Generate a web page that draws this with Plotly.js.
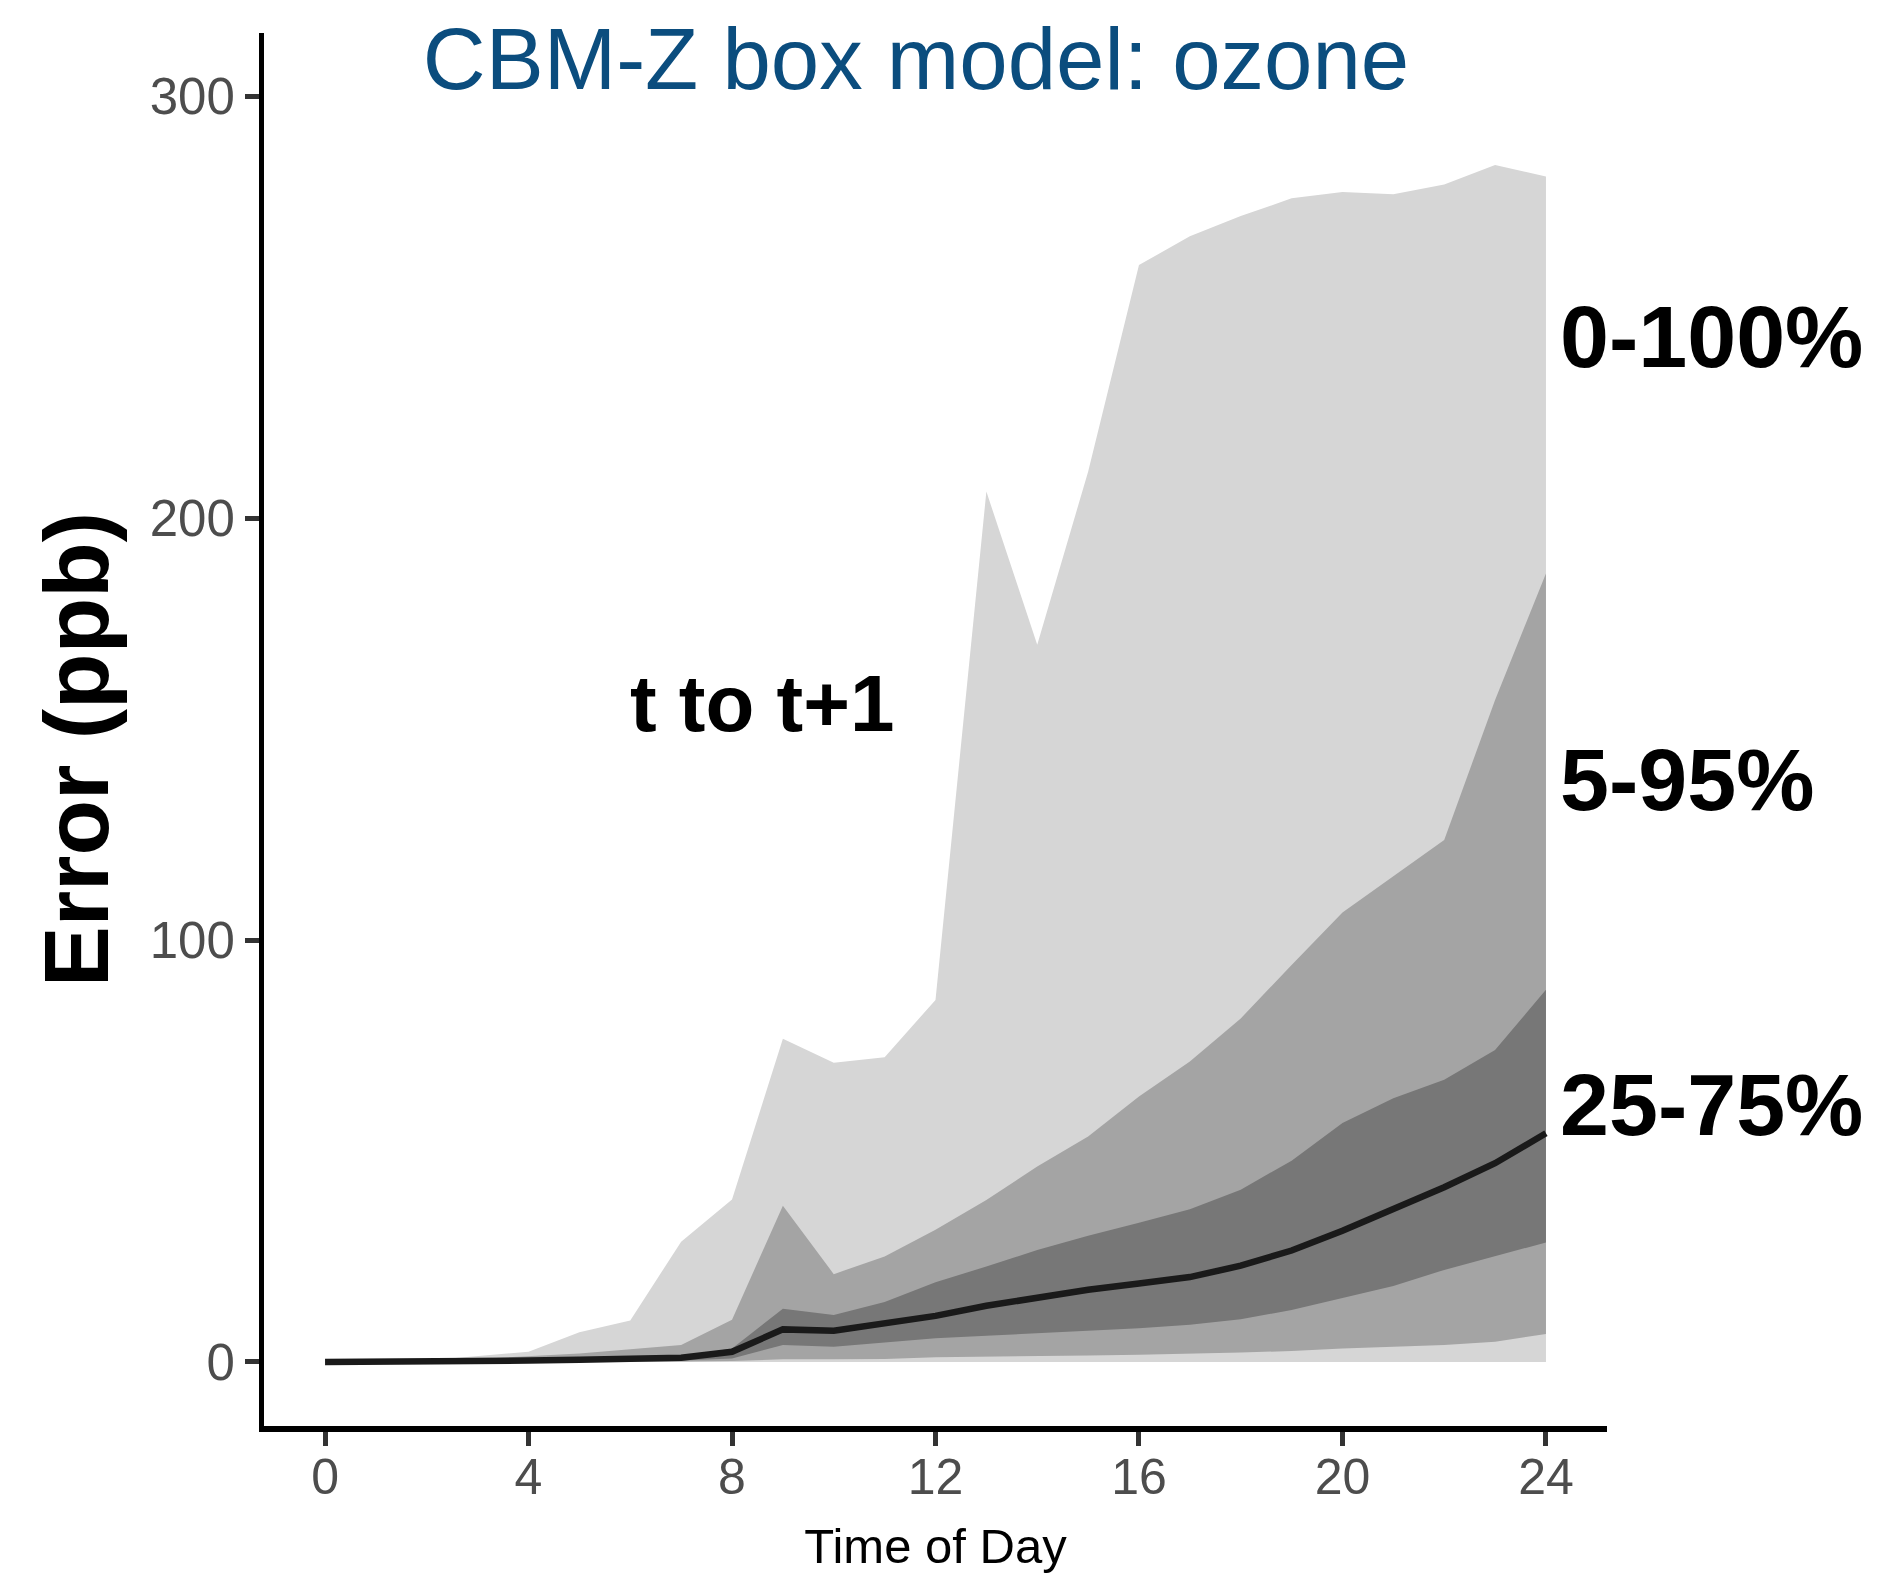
<!DOCTYPE html>
<html>
<head>
<meta charset="utf-8">
<script src="https://cdn.plot.ly/plotly-3.0.1.min.js"></script>
<style>html,body{margin:0;padding:0;background:#fff;}#chart{width:1880px;height:1573px;}</style>
</head>
<body>
<div id="chart"></div>
<script>
// Hour of day
const hours = [0,1,2,3,4,5,6,7,8,9,10,11,12,13,14,15,16,17,18,19,20,21,22,23,24];
// Error percentiles (ppb)
const p0   = [0,0,0,0,0,0,0,0,0,0,0,0,0,0,0,0,0,0,0,0,0,0,0,0,0];
const p5   = [0,0,0,0.01,0.02,0.03,0.05,0.08,0.2,0.6,0.6,0.7,1.1,1.2,1.3,1.5,1.7,1.9,2.2,2.6,3.2,3.6,4.0,4.8,6.6];
const p25  = [0,0,0.02,0.05,0.1,0.15,0.2,0.3,0.8,4.0,3.6,4.6,5.6,6.2,6.8,7.4,8.0,8.8,10.1,12.3,15.1,18.0,21.8,25.0,28.3];
const p50  = [0,0,0.05,0.15,0.3,0.5,0.7,1.0,2.4,7.7,7.4,9.3,10.9,13.3,15.2,17.1,18.6,20.1,22.8,26.4,31.1,36.2,41.4,47.1,54.2];
const p75  = [0,0.01,0.1,0.3,0.5,0.7,0.9,1.2,3.2,12.6,11.1,14.2,18.9,22.6,26.5,29.9,33.0,36.2,40.8,47.7,56.6,62.5,66.9,73.9,88.2];
const p95  = [0,0.02,0.2,0.7,1.3,2.0,3.0,4.0,10.0,37.0,20.8,25.0,31.3,38.4,46.3,53.4,62.9,71.2,81.4,94.1,106.5,115.0,123.7,156.9,186.9];
const p100 = [0,0.05,0.3,1.4,2.4,7.0,9.8,28.5,38.5,76.6,70.9,72.2,85.8,206.3,170.0,211.0,260.0,266.8,271.6,275.8,277.3,276.8,279.1,283.7,281.0];

const xTicks = [0,4,8,12,16,20,24];
const yTicks = [0,100,200,300];
const bandLabels = ["0-100%","5-95%","25-75%"];
const bandLabelY = [243,138,61];

const FONT = "Liberation Sans, Arial, Helvetica, sans-serif";

function band(lo, hi, color){
  return [
    {x: hours, y: lo, type:'scatter', mode:'lines', line:{width:0, color:color}, hoverinfo:'skip', showlegend:false},
    {x: hours, y: hi, type:'scatter', mode:'lines', line:{width:0, color:color}, fill:'tonexty', fillcolor:color, hoverinfo:'skip', showlegend:false}
  ];
}

const traces = [].concat(
  band(p0, p100, '#d6d6d6'),
  band(p5, p95, '#a4a4a4'),
  band(p25, p75, '#777777'),
  [{x: hours, y: p50, type:'scatter', mode:'lines', line:{width:6.5, color:'#1a1a1a'}, showlegend:false}]
);

const annotations = bandLabels.map((t,i)=>({
  text: t, x: 24.23, y: bandLabelY[i], xref:'x', yref:'y', xanchor:'left', yanchor:'middle',
  showarrow:false, font:{family:FONT, size:88, color:'#000', weight:'bold'}
}));
annotations.push({
  text:'t to t+1', x: 8.58, y: 156, xref:'x', yref:'y', xanchor:'center', yanchor:'middle',
  showarrow:false, font:{family:FONT, size:80, color:'#000', weight:'bold'}
});
// y-axis title
annotations.push({
  text:'Error (ppb)', textangle:-90, x:(76-264)/1343, y:(1426-750)/1393, xref:'paper', yref:'paper',
  xanchor:'center', yanchor:'middle', showarrow:false,
  font:{family:FONT, size:91, color:'#000', weight:'bold'}
});

const layout = {
  width:1880, height:1573,
  paper_bgcolor:'#fff', plot_bgcolor:'#fff',
  margin:{l:264, r:273, t:33, b:147, pad:0},
  font:{family:FONT},
  title:{text:'CBM-Z box model: ozone', font:{family:FONT, size:87, color:'#0b4d7e'},
         x:916/1880, xref:'container', xanchor:'center', y:1-59/1573, yref:'container', yanchor:'middle'},
  xaxis:{range:[-1.2,25.2], tickvals:xTicks, ticktext:xTicks.map(String), showgrid:false, zeroline:false,
         showline:true, linecolor:'#000', linewidth:6, ticks:'outside', ticklen:14, tickwidth:5, tickcolor:'#333',
         ticklabelstandoff:-12,
         tickfont:{family:FONT, size:50, color:'#4d4d4d'},
         title:{text:'Time of Day', font:{family:FONT, size:49, color:'#000'}, standoff:30}},
  yaxis:{range:[-15.2,315], tickvals:yTicks, ticktext:yTicks.map(String), showgrid:false, zeroline:false,
         showline:true, linecolor:'#000', linewidth:5, ticks:'outside', ticklen:14, tickwidth:5, tickcolor:'#333',
         tickfont:{family:FONT, size:51, color:'#4d4d4d'}},
  annotations: annotations,
  showlegend:false
};

Plotly.newPlot('chart', traces, layout, {staticPlot:true, displayModeBar:false});
</script>
</body>
</html>
